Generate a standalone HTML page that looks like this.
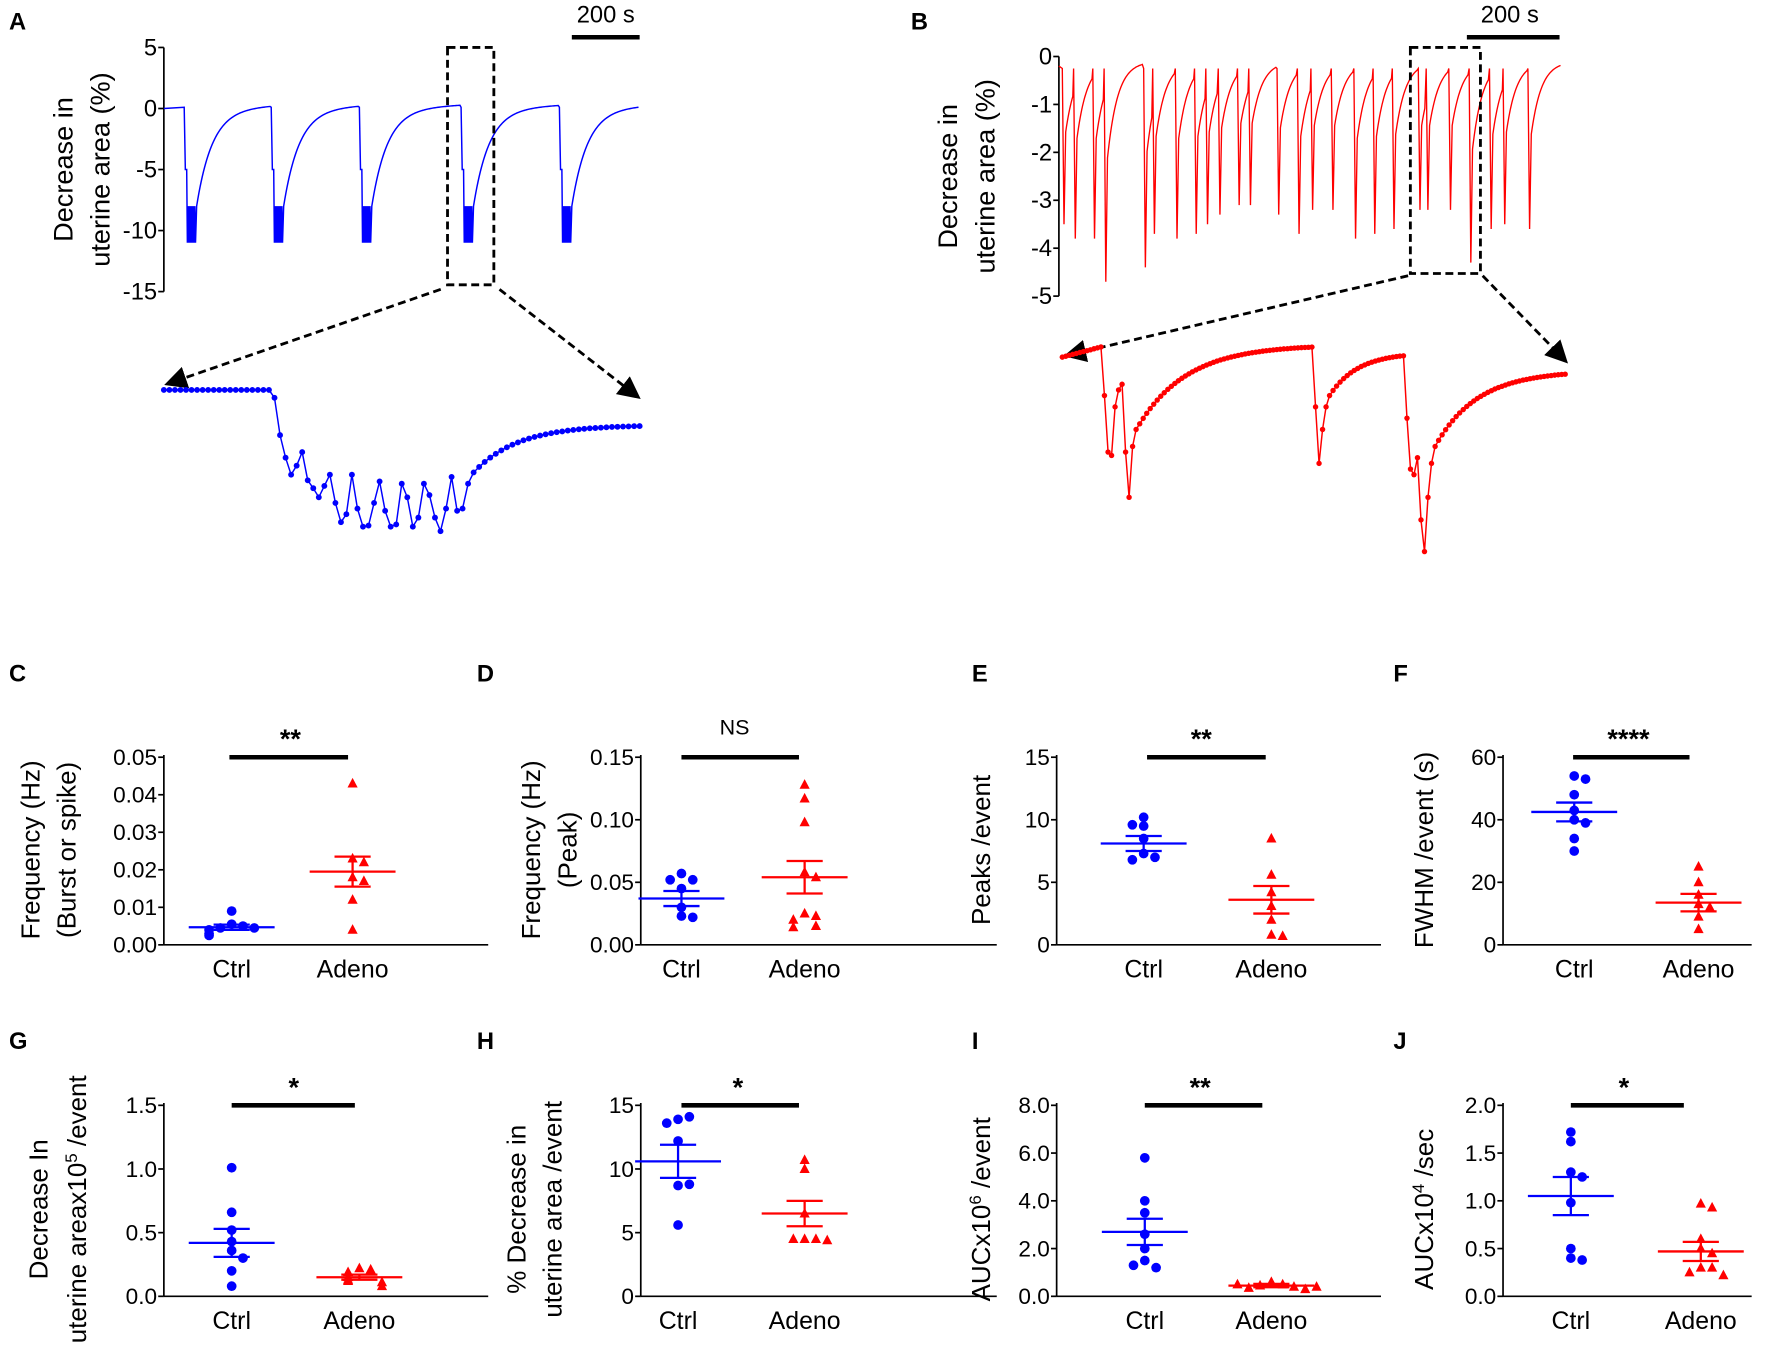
<!DOCTYPE html>
<html><head><meta charset="utf-8"><style>
html,body{margin:0;padding:0;background:#fff}
svg{display:block}
text{font-family:"Liberation Sans",Arial,sans-serif}
</style></head><body>
<svg id="s" width="1772" height="1363" viewBox="0 0 1568 1206" preserveAspectRatio="none" xmlns="http://www.w3.org/2000/svg"></svg>
<script>
const S=document.getElementById('s');let h='';
function T(x,y,t,o={}){h+=`<text x="${x}" y="${y}" font-size="${o.fs||20}" text-anchor="${o.a||'middle'}" ${o.b?'font-weight="bold"':''} ${o.r?`transform="rotate(-90 ${x} ${y})"`:''} fill="#000">${t}</text>`;}
function L(x1,y1,x2,y2,c='#000',w=1.5,d=''){h+=`<line x1="${x1}" y1="${y1}" x2="${x2}" y2="${y2}" stroke="${c}" stroke-width="${w}" ${d?`stroke-dasharray="${d}"`:''}/>`;}
[['A',8,26],['B',806,26],['C',8,603],['D',422,603],['E',860,603],['F',1233,603],['G',8,928],['H',422,928],['I',860,928],['J',1233,928]].forEach(p=>T(p[1],p[2],p[0],{a:'start',b:1,fs:21}));
// Panel A
L(145,42,145,258);
[[5,42],[0,96],[-5,150],[-10,204],[-15,258]].forEach(t=>{L(140,t[1],145,t[1]);T(139,t[1]+7,t[0],{a:'end',fs:21});});
T(64,150,'Decrease in',{r:1,fs:24});T(97,150,'uterine area (%)',{r:1,fs:24});
L(506,33,566,33,'#000',4);T(536,20,'200 s',{fs:21});
function yA(v){return 96-v*10.8;}
let p='M145,'+yA(0);
const ev=[163,240,318,408,495];
for(let i=0;i<ev.length;i++){const e=ev[i];p+=` L${e},${yA(0.1)}`;
 for(let k=0;k<16;k++){p+=` L${(e+1+k*0.6).toFixed(1)},${yA(k<3?-5:-7.5-(k%2?3.5:0.5))}`;}
 const nx=i<ev.length-1?ev[i+1]:566;
 for(let x=e+11;x<=nx-1;x+=1){const t=x-e-11;p+=` L${x},${yA(-8*Math.exp(-t/14)+0.3*(t/80))}`;}
}
h+=`<path d="${p}" fill="none" stroke="#0000ff" stroke-width="1.3"/>`;
h+=`<rect x="396" y="42" width="41" height="210" fill="none" stroke="#000" stroke-width="2.5" stroke-dasharray="7,4"/>`;
h+=`<defs><marker id="ar" markerWidth="8" markerHeight="8" refX="6" refY="4" orient="auto"><path d="M0,0 L8,4 L0,8z" fill="#000"/></marker></defs>`;
L(390,256,150,339,'#000',2.5,'7,4');h=h.replace(/\/>$/,' marker-end="url(#ar)"/>');
L(442,256,563,350,'#000',2.5,'7,4');h=h.replace(/\/>$/,' marker-end="url(#ar)"/>');
// zoom A
let za=[];for(let i=0;i<20;i++)za.push(345);
const osc=[352,385,405,420,412,400,425,432,440,430,420,445,462,455,420,450,466,465,445,426,452,466,464,428,440,466,458,428,438,458,470,450,422,452,450,428];
za=za.concat(osc);for(let i=0;i<31;i++){za.push(376+(418-376)*Math.exp(-i/8));}
let zp='';let ca='';const dx=(566-145)/(za.length-1);
za.forEach((y,i)=>{const x=145+i*dx;zp+=(i?' L':'M')+x.toFixed(1)+','+y.toFixed(1);ca+=`<circle cx="${x.toFixed(1)}" cy="${y.toFixed(1)}" r="2.6" fill="#0000ff"/>`;});
h+=`<path d="${zp}" fill="none" stroke="#0000ff" stroke-width="1.3"/>`+ca;
// Panel B
L(937,50,937,262);
for(let i=0;i<=5;i++){const y=50+i*42.4;L(932,y,937,y);T(931,y+7,i?'-'+i:'0',{a:'end',fs:21});}
T(847,156,'Decrease in',{r:1,fs:24});T(880,156,'uterine area (%)',{r:1,fs:24});
L(1298,33,1380,33,'#000',4);T(1336,20,'200 s',{fs:21});
function yB(v){return 50-v*42.4;}
const evB=[[940,-3.5],[950,-3.8],[967,-3.8],[977,-4.7],[1012,-4.4],[1020,-3.7],[1040,-3.8],[1057,-3.7],[1067,-3.5],[1078,-3.3],[1095,-3.1],[1105,-3.1],[1130,-3.3],[1148,-3.7],[1160,-3.2],[1178,-3.2],[1198,-3.8],[1215,-3.7],[1232,-3.6],[1255,-3.2],[1262,-3.2],[1282,-3.2],[1300,-4.3],[1318,-3.6],[1330,-3.5],[1352,-3.6]];
let pb='M937,'+yB(-0.2);
for(let i=0;i<evB.length;i++){const [e,d]=evB[i];const nx=i<evB.length-1?evB[i+1][0]:1382;
 pb+=` L${e},${yB(-0.25)} L${e+1.5},${yB(d)}`;
 for(let x=e+3;x<=nx-0.5;x+=0.7){const t=x-e-3;pb+=` L${x.toFixed(1)},${yB(-0.1+(d*0.45+0.1)*Math.exp(-t/9)).toFixed(1)}`;}
}
h+=`<path d="${pb}" fill="none" stroke="#ff0000" stroke-width="1.2"/>`;
h+=`<rect x="1248" y="42" width="62" height="200" fill="none" stroke="#000" stroke-width="2.5" stroke-dasharray="7,4"/>`;
L(1246,244,946,314,'#000',2.5,'7,4');h=h.replace(/\/>$/,' marker-end="url(#ar)"/>');
L(1312,244,1384,318,'#000',2.5,'7,4');h=h.replace(/\/>$/,' marker-end="url(#ar)"/>');
// zoom B
let zb=[];
function flat(n,a,b){for(let i=0;i<n;i++)zb.push(a+(b-a)*i/(n-1));}
function rec(n,a,b,tau){for(let i=0;i<n;i++)zb.push(b+(a-b)*Math.exp(-i/tau));}
flat(12,316,307);zb.push(350,400,403,360,345,340,400,440,395,380);rec(50,375,305,14);
zb.push(360,410,380,360);rec(22,350,312,8);zb.push(370,415,420,405,460,488,440,410);rec(38,395,328,12);
let bp='',cb='';const dxb=(1385-940)/(zb.length-1);
zb.forEach((y,i)=>{const x=940+i*dxb;bp+=(i?' L':'M')+x.toFixed(1)+','+y.toFixed(1);cb+=`<circle cx="${x.toFixed(1)}" cy="${y.toFixed(1)}" r="2.4" fill="#ff0000"/>`;});
h+=`<path d="${bp}" fill="none" stroke="#ff0000" stroke-width="1.3"/>`+cb;
// scatter panels
function P(o){const {ax,top,bot,max,ticks,yl,ylx,cx,adx,ctrl,aden,cm,cs,am,as,sig,sigx,bar}=o;
 L(ax,top-2,ax,bot);L(ax,bot,ax+o.w,bot);
 const Y=v=>bot-(v/max)*(bot-top);
 ticks.forEach(t=>{L(ax-5,Y(+t),ax,Y(+t));T(ax-6,Y(+t)+7,t,{a:'end',fs:20});});
 yl.forEach((s,i)=>T(ylx[i],o.ylc,s,{r:1,fs:23}));
 T(cx,bot+29,'Ctrl',{fs:22});T(adx,bot+29,'Adeno',{fs:22});
 L(bar[0],top,bar[1],top,'#000',4);T(sigx,top-(sig=='NS'?20:8),sig,{fs:sig=='NS'?19:24,b:sig!='NS'});
 const sp=(arr,c,tri,x)=>{arr.forEach((v,i)=>{const same=arr.filter((w,j)=>j<i&&Math.abs(Y(w)-Y(v))<7).length;let off=same==0?0:(same%2?1:-1)*Math.ceil(same/2)*10;const px=x+off,py=Y(v);
   h+=tri?`<path d="M${px},${py-5} L${px+4.5},${py+3.5} L${px-4.5},${py+3.5}z" fill="${c}"/>`:`<circle cx="${px}" cy="${py}" r="4.3" fill="${c}"/>`;});};
 sp(ctrl,'#0000ff',0,cx);sp(aden,'#ff0000',1,adx);
 const ms=(m,s,x,c)=>{L(x-38,Y(m),x+38,Y(m),c,2);L(x-16,Y(m+s),x+16,Y(m+s),c,2);L(x-16,Y(m-s),x+16,Y(m-s),c,2);L(x,Y(m-s),x,Y(m+s),c,2);};
 ms(cm,cs,cx,'#0000ff');ms(am,as,adx,'#ff0000');
}
const R1={top:670,bot:836,ylc:752},R2={top:978,bot:1147,ylc:1070};
P({...R1,ax:145,w:287,max:0.05,ticks:['0.00','0.01','0.02','0.03','0.04','0.05'],yl:['Frequency (Hz)','(Burst or spike)'],ylx:[35,67],cx:205,adx:312,
 ctrl:[0.009,0.0055,0.005,0.0045,0.0045,0.004,0.003,0.0025],aden:[0.043,0.023,0.022,0.018,0.017,0.012,0.004],cm:0.0047,cs:0.0007,am:0.0195,as:0.004,sig:'**',sigx:257,bar:[203,308]});
P({...R1,ax:567,w:315,max:0.15,ticks:['0.00','0.05','0.10','0.15'],yl:['Frequency (Hz)','(Peak)'],ylx:[478,510],cx:603,adx:712,
 ctrl:[0.057,0.052,0.052,0.045,0.03,0.023,0.022],aden:[0.128,0.117,0.098,0.058,0.054,0.025,0.023,0.02,0.015,0.014],cm:0.037,cs:0.006,am:0.054,as:0.013,sig:'NS',sigx:650,bar:[603,707]});
P({...R1,ax:935,w:287,max:15,ticks:['0','5','10','15'],yl:['Peaks /event'],ylx:[876],cx:1012,adx:1125,
 ctrl:[10.2,9.5,9.6,8.5,7.3,7,6.8],aden:[8.5,5.6,4.2,3.1,2,0.8,0.7],cm:8.1,cs:0.6,am:3.6,as:1.1,sig:'**',sigx:1063,bar:[1015,1120]});
P({...R1,ax:1330,w:220,max:60,ticks:['0','20','40','60'],yl:['FWHM /event (s)'],ylx:[1268],cx:1393,adx:1503,
 ctrl:[54,53,48,43,40,39,34,30],aden:[25,20,16,13,12,9,5],cm:42.5,cs:3,am:13.5,as:2.8,sig:'****',sigx:1441,bar:[1392,1495]});
P({...R2,ax:145,w:287,max:1.5,ticks:['0.0','0.5','1.0','1.5'],yl:['Decrease In','uterine areax10<tspan baseline-shift="super" font-size="15">5</tspan> /event'],ylx:[42,76],cx:205,adx:318,
 ctrl:[1.01,0.66,0.52,0.43,0.36,0.3,0.2,0.08],aden:[0.22,0.21,0.19,0.15,0.13,0.12,0.11,0.08],cm:0.42,cs:0.11,am:0.15,as:0.02,sig:'*',sigx:260,bar:[205,314]});
P({...R2,ax:567,w:315,max:15,ticks:['0','5','10','15'],yl:['% Decrease in','uterine area /event'],ylx:[465,497],cx:600,adx:712,
 ctrl:[13.9,14.1,13.6,12.2,8.7,8.8,5.6],aden:[10.7,10,6.5,4.5,4.5,4.5,4.4],cm:10.6,cs:1.3,am:6.5,as:1,sig:'*',sigx:653,bar:[603,707]});
P({...R2,ax:935,w:287,max:8,ticks:['0.0','2.0','4.0','6.0','8.0'],yl:['AUCx10<tspan baseline-shift="super" font-size="15">6</tspan> /event'],ylx:[876],cx:1013,adx:1125,
 ctrl:[5.8,4,3.5,2.6,2,1.5,1.2,1.3],aden:[0.6,0.5,0.45,0.4,0.35,0.3,0.5,0.4],cm:2.7,cs:0.55,am:0.45,as:0.07,sig:'**',sigx:1062,bar:[1013,1117]});
P({...R2,ax:1330,w:220,max:2,ticks:['0.0','0.5','1.0','1.5','2.0'],yl:['AUCx10<tspan baseline-shift="super" font-size="15">4</tspan> /sec'],ylx:[1268],cx:1390,adx:1505,
 ctrl:[1.72,1.62,1.3,1.25,0.98,0.5,0.4,0.38],aden:[0.97,0.93,0.6,0.5,0.45,0.3,0.3,0.25,0.22],cm:1.05,cs:0.2,am:0.47,as:0.1,sig:'*',sigx:1437,bar:[1390,1490]});
S.innerHTML=h;
</script>
</body></html>
